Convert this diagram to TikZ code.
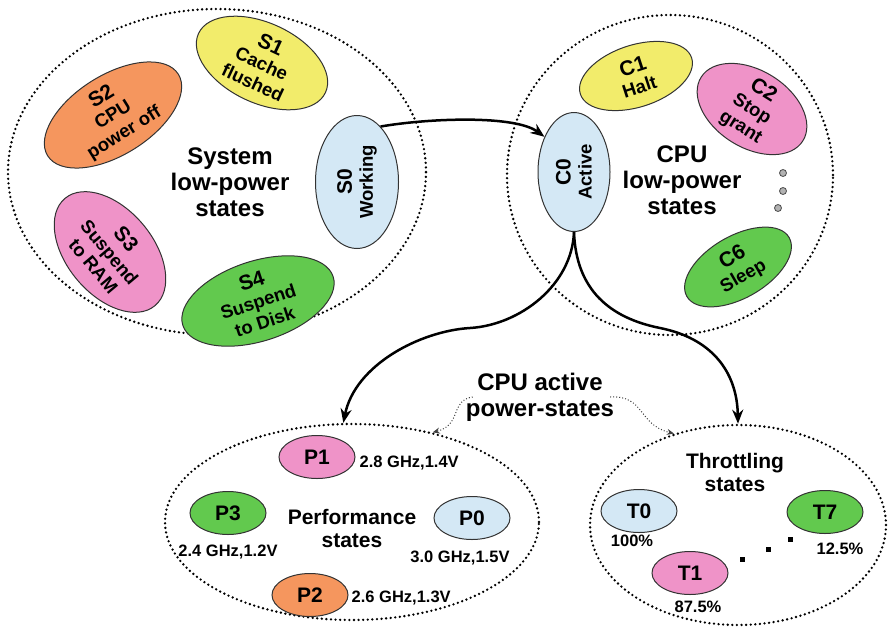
\documentclass[tikz,border=0pt]{standalone}
\usepackage{fontspec}
\setmainfont{Liberation Sans}
\usetikzlibrary{shapes.geometric,arrows.meta,positioning}
\definecolor{stYellow}{HTML}{F2EC6B}
\definecolor{stOrange}{HTML}{F5965E}
\definecolor{stBlue}{HTML}{D4E8F5}
\definecolor{stGreen}{HTML}{62C94E}
\definecolor{stPink}{HTML}{EF93C8}
\newcommand\bigfont{\fontsize{24}{26}\selectfont\bfseries}
\newcommand\midfont{\fontsize{21}{23}\selectfont\bfseries}
\newcommand\namefont{\fontsize{21}{21}\selectfont\bfseries}
\newcommand\descfont{\fontsize{18.5}{21}\selectfont\bfseries}
\newcommand\valfont{\fontsize{16.5}{18}\selectfont\bfseries}
\tikzset{
  >={Stealth[length=14pt,width=11pt]},
  state/.style={draw=black!80, line width=1pt, ellipse, inner sep=-3pt, align=center, font=\descfont},
  pstate/.style={state, minimum width=76pt, minimum height=43pt, font=\namefont},
  group/.style={draw, ellipse, line width=2.6pt, line cap=round, dash pattern=on 0pt off 4.6pt},
  title/.style={align=center, font=\bigfont, inner sep=0pt},
  val/.style={font=\valfont, inner sep=1pt},
  flow/.style={->, line width=2.5pt},
  hint/.style={-{Stealth[length=7pt,width=6pt]}, line width=1pt, dotted, black!75},
}

\begin{document}
\begin{tikzpicture}[x=1pt, y=-1pt]
  \useasboundingbox (0,0) rectangle (889,627);

  % containers
  \node[group, minimum width=418pt, minimum height=326pt] (sys)  at (217,172) {};
  \node[group, minimum width=326pt, minimum height=320pt] (cpu)  at (670,175) {};
  \node[group, minimum width=374pt, minimum height=196pt] (perf) at (352,522) {};
  \node[group, minimum width=296pt, minimum height=200pt] (thr)  at (738,525) {};

  % system states
  \node[title] (systxt) at (230,182) {System\\low-power\\states};
  \node[state, fill=stYellow, rotate=-25, minimum width=140pt, minimum height=80pt] (S1) at (262,63) {{\namefont S1}\\Cache\\flushed};
  \node[state, fill=stOrange, rotate=32, minimum width=154pt, minimum height=80pt] (S2) at (113,115) {{\namefont S2}\\CPU\\power off};
  \node[state, fill=stBlue, rotate=90, minimum width=133pt, minimum height=83pt] (S0) at (357,182) {{\namefont S0}\\Working};
  \node[state, fill=stPink, rotate=-50, minimum width=140pt, minimum height=86pt] (S3) at (110,252) {{\namefont S3}\\Suspend\\to RAM};
  \node[state, fill=stGreen, rotate=18, minimum width=158pt, minimum height=80pt] (S4) at (258,301) {{\namefont S4}\\Suspend\\to Disk};

  % cpu states
  \node[title] (cputxt) at (682,180) {CPU\\low-power\\states};
  \node[state, fill=stBlue, rotate=90, minimum width=119pt, minimum height=72pt] (C0) at (574,172) {{\namefont C0}\\Active};
  \node[state, fill=stYellow, rotate=18, minimum width=117pt, minimum height=62pt] (C1) at (636,76) {{\namefont C1}\\Halt};
  \node[state, fill=stPink, rotate=-32, minimum width=120pt, minimum height=71pt] (C2) at (752,109) {{\namefont C2}\\Stop\\grant};
  \node[state, fill=stGreen, rotate=30, minimum width=118pt, minimum height=62pt] (C6) at (738,267) {{\namefont C6}\\Sleep};
  \foreach \x/\y in {783/173, 783/191, 778/208}
    \fill[gray!60, draw=gray!60!black, line width=0.8pt] (\x,\y) circle (3.5pt);

  % performance states
  \node[title, font=\midfont] (perftxt) at (352,528) {Performance\\states};
  \node[pstate, fill=stPink] (P1) at (317,457) {P1};
  \node[pstate, fill=stGreen] (P3) at (228,513) {P3};
  \node[pstate, fill=stBlue] (P0) at (472,518) {P0};
  \node[pstate, fill=stOrange] (P2) at (310,595) {P2};
  \node[val, right=3pt of P1, yshift=-6pt] (P1v) {2.8 GHz,1.4V};
  \node[val, below=9pt of P3] (P3v) {2.4 GHz,1.2V};
  \node[val, below=10pt of P0, xshift=-12pt] (P0v) {3.0 GHz,1.5V};
  \node[val, right=2pt of P2, yshift=-3pt] (P2v) {2.6 GHz,1.3V};

  % throttling states
  \node[title, font=\midfont] (thrtxt) at (735,472) {Throttling\\states};
  \node[pstate, fill=stBlue] (T0) at (639,511) {T0};
  \node[pstate, fill=stPink] (T1) at (690,573) {T1};
  \node[pstate, fill=stGreen] (T7) at (825,512) {T7};
  \node[val, below=1pt of T0, xshift=-7pt] (T0v) {100\%};
  \node[val, below=5pt of T1, xshift=8pt] (T1v) {87.5\%};
  \node[val, below=8pt of T7, xshift=15pt] (T7v) {12.5\%};
  \foreach \x/\y in {740/562, 766/552, 788/542}
    \fill (\x,\y) rectangle ++(5,-5);

  % transitions
  \node[title] (acttxt) at (540,397) {CPU active\\power-states};
  \draw[flow] (S0.-23) .. controls (430,118) and (515,115) .. (C0.40);
  \draw[flow] (C0.west) .. controls (572,285) and (520,325) .. (470,328)
                        .. controls (420,331) and (355,365) .. (perf.95);
  \draw[flow] (C0.west) .. controls (576,290) and (610,318) .. (660,328)
                        .. controls (710,338) and (737,370) .. (thr.north);
  \draw[hint] ([xshift=7pt]acttxt.west) .. controls (450,400) and (462,425) .. (perf.48);
  \draw[hint] ([xshift=-4pt]acttxt.east) .. controls (645,395) and (638,425) .. (thr.125);
\end{tikzpicture}
\end{document}
